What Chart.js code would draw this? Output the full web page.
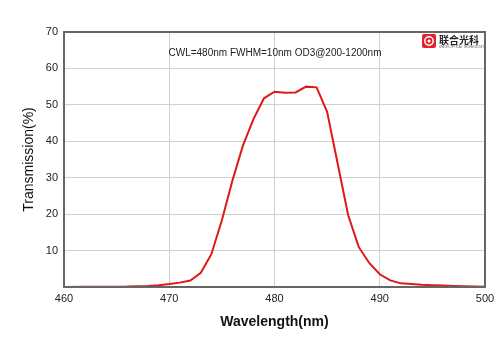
<!DOCTYPE html>
<html>
<head>
<meta charset="utf-8">
<script src="https://cdn.jsdelivr.net/npm/chart.js@4/dist/chart.umd.min.js"></script>
<style>
html,body{margin:0;padding:0;background:#fff;}
#wrap{width:500px;height:353px;position:relative;}
</style>
</head>
<body>
<div id="wrap"><canvas id="c"></canvas></div>
<script>
const wavelengths = [460,462,464,466,468,469,470,471,472,473,474,475,476,477,478,479,480,481,482,483,484,485,486,487,488,489,490,491,492,493,494,495,496,497,498,499,500];
const transmission = [0.02,0.05,0.08,0.12,0.3,0.5,0.8,1.2,1.8,3.9,9.0,18.3,29.2,38.8,46.1,51.8,53.6,53.3,53.4,55.0,54.8,48.1,33.9,19.7,11.0,6.6,3.5,1.8,1.0,0.8,0.6,0.5,0.4,0.3,0.2,0.15,0.1];
const xTicks = [460,470,480,490,500];
const yTicks = [10,20,30,40,50,60,70];
const annotation = "CWL=480nm FWHM=10nm OD3@200-1200nm";
const logoText = "联合光科";
const logoSub = "UNION OPTICAL TECHNOLOGY";

const extras = {
  id:'extras',
  afterDatasetsDraw(chart){
    const ctx = chart.ctx, a = chart.chartArea;
    ctx.save();
    ctx.strokeStyle = '#666';
    ctx.lineWidth = 2;
    ctx.strokeRect(a.left, a.top, a.right - a.left, a.bottom - a.top);
    ctx.fillStyle = '#222';
    ctx.font = '10px "Liberation Sans", Arial, sans-serif';
    ctx.textAlign = 'center';
    ctx.textBaseline = 'middle';
    ctx.fillText(annotation, 275, 53);
    const lx = 422, ly = 34;
    ctx.fillStyle = '#e0242a';
    ctx.beginPath();
    ctx.roundRect ? ctx.roundRect(lx, ly, 14, 14, 2) : ctx.rect(lx, ly, 14, 14);
    ctx.fill();
    ctx.strokeStyle = '#fff';
    ctx.lineWidth = 1.5;
    ctx.beginPath();
    ctx.arc(lx+7, ly+7, 4.2, 0, Math.PI*2);
    ctx.stroke();
    ctx.fillStyle = '#fff';
    ctx.beginPath();
    ctx.arc(lx+7, ly+7, 1.6, 0, Math.PI*2);
    ctx.fill();
    ctx.fillStyle = '#222';
    ctx.font = 'bold 10px "Noto Sans CJK SC", sans-serif';
    ctx.textAlign = 'left';
    ctx.fillText(logoText, 439, 40);
    ctx.font = '3px "Liberation Sans", Arial, sans-serif';
    ctx.fillStyle = '#555';
    ctx.fillText(logoSub, 439, 47);
    ctx.restore();
  }
};

new Chart(document.getElementById('c'), {
  type:'line',
  data:{
    datasets:[{
      data: wavelengths.map((w,i)=>({x:w, y:transmission[i]})),
      borderColor:'#e01818',
      borderWidth:2,
      pointRadius:0,
      tension:0,
      fill:false
    }]
  },
  options:{
    responsive:true,
    maintainAspectRatio:false,
    animation:false,
    layout:{padding:{top:32,right:15,left:0,bottom:0}},
    plugins:{legend:{display:false},tooltip:{enabled:false}},
    scales:{
      x:{
        type:'linear', min:460, max:500,
        afterBuildTicks(s){ s.ticks = xTicks.map(v=>({value:v})); },
        afterFit(s){ s.height = 66; },
        grid:{color:'#d0d0d0', lineWidth:1, drawTicks:false},
        border:{display:false},
        ticks:{color:'#222', padding:5, font:{family:'"Liberation Sans", Arial, sans-serif', size:11}, maxRotation:0},
        title:{display:true, text:'Wavelength(nm)', color:'#111', font:{family:'"Liberation Sans", Arial, sans-serif', size:14, weight:'bold'}, padding:{top:0,bottom:22}}
      },
      y:{
        min:0, max:70,
        afterBuildTicks(s){ s.ticks = yTicks.map(v=>({value:v})); },
        afterFit(s){ s.width = 64; },
        grid:{color:'#d0d0d0', lineWidth:1, drawTicks:false},
        border:{display:false},
        ticks:{color:'#222', padding:6, font:{family:'"Liberation Sans", Arial, sans-serif', size:11}},
        title:{display:true, text:'Transmission(%)', color:'#111', font:{family:'"Liberation Sans", Arial, sans-serif', size:14}, padding:{top:21,bottom:0}}
      }
    }
  },
  plugins:[extras]
});
</script>
</body>
</html>
